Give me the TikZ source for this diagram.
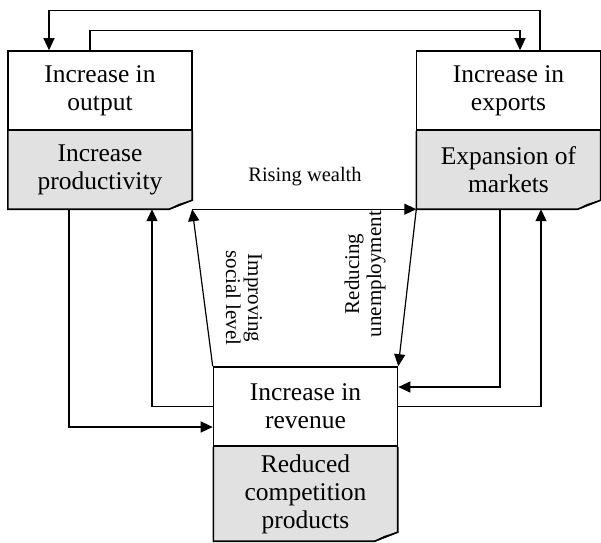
\documentclass[tikz,border=0pt]{standalone}
\usepackage{fontspec}
\setmainfont{Liberation Serif}
\usetikzlibrary{positioning,arrows.meta,backgrounds}
\definecolor{notegray}{HTML}{E1E1E1}
\tikzset{
	upper/.style={draw, line width=1.6pt, minimum width=184pt, minimum height=79pt, inner sep=0pt, align=center, font=\fontsize{25.5}{28}\selectfont},
	lower/.style={minimum width=184pt, minimum height=78pt, inner sep=0pt, align=center, font=\fontsize{25.5}{28}\selectfont},
	arr/.style={line width=1.2pt, -{Triangle[length=12pt,width=11pt]}},
	lbl/.style={align=center, font=\fontsize{20.5}{23}\selectfont}
}
\newcommand{\foldnote}[1]{%
	\fill[notegray] (#1.north west) -- (#1.south west) -- ([xshift=-23pt]#1.south east) -- ([yshift=9pt]#1.south east) -- (#1.north east) -- cycle;
	\draw[line width=1.6pt] (#1.north west) -- (#1.south west) -- ([xshift=-23pt]#1.south east) -- ([yshift=9pt]#1.south east) -- (#1.north east);
	\filldraw[fill=gray!55, line width=0.8pt] ([xshift=-23pt]#1.south east) -- ([yshift=9pt]#1.south east) -- ([xshift=-13pt,yshift=5pt]#1.south east) -- cycle;}

\begin{document}
\begin{tikzpicture}[x=1pt,y=-1pt]
	\useasboundingbox (0,0) rectangle (601,542);
	\node[upper] (output) at (100,90.5) {Increase in\\output};
	\node[lower, below=0pt of output] (prod) {Increase\\productivity};
	\node[upper] (exports) at (508.5,90.5) {Increase in\\exports};
	\node[lower, below=0pt of exports] (markets) {Expansion of\\markets};
	\node[upper] (revenue) at (305.5,406.5) {Increase in\\revenue};
	\node[lower, minimum height=94pt, below=0pt of revenue] (competition) {Reduced\\competition\\products};
	\begin{scope}[on background layer]
		\foldnote{prod}
		\foldnote{markets}
		\foldnote{competition}
	\end{scope}
	\draw[arr] ([xshift=31.5pt]exports.north) -- ++(0,-40) -| ([xshift=-51pt]output.north);
	\draw[arr] ([xshift=-10pt]output.north) -- ++(0,-20) -| ([xshift=11.5pt]exports.north);
	\node[lbl] (wealth) at (305,177) {Rising wealth};
	\draw[arr] (prod.south east) -- (markets.south west);
	\draw[arr] (revenue.north west) -- (prod.south east);
	\node[lbl, rotate=-90, font=\fontsize{21}{22}\selectfont] (social) at (244,298) {Improving\\social level};
	\draw[arr] (markets.south west) -- (revenue.north east);
	\node[lbl, rotate=90, font=\fontsize{21}{22}\selectfont] (unemploy) at (365,274) {Reducing\\unemployment};
	\draw[arr] ([xshift=-31pt]prod.south) |- ([yshift=-20.5pt]revenue.west);
	\draw[arr] (revenue.west) -| ([xshift=52pt]prod.south);
	\draw[arr] ([xshift=-8.5pt]markets.south) |- ([yshift=19.5pt]revenue.east);
	\draw[arr] (revenue.east) -| ([xshift=32.5pt]markets.south);
\end{tikzpicture}
\end{document}
